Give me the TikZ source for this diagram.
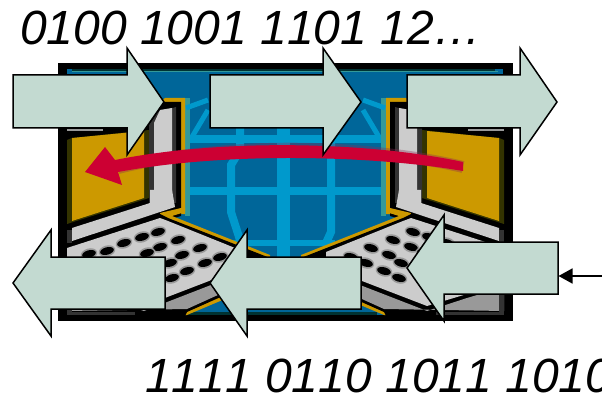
\documentclass[tikz,border=0pt]{standalone}
\usepackage{fontspec}
\setmainfont[Kerning=Off]{Liberation Sans}
\usetikzlibrary{arrows.meta}
\definecolor{blueA}{HTML}{006699}
\definecolor{blueB}{HTML}{0099CC}
\definecolor{tealA}{HTML}{339999}
\definecolor{darkT}{HTML}{003333}
\definecolor{goldA}{HTML}{CC9900}
\definecolor{oliveA}{HTML}{333300}
\definecolor{grayA}{HTML}{CCCCCC}
\definecolor{grayB}{HTML}{999999}
\definecolor{grayC}{HTML}{333333}
\definecolor{redA}{HTML}{CC0033}
\definecolor{purpA}{HTML}{8A2A55}
\definecolor{mint}{HTML}{C3DAD1}
\tikzset{
  blockarrow/.style={fill=mint,draw=black,line width=1.5pt,line join=miter},
  bits/.style={inner sep=0pt,anchor=base west,font=\fontsize{48}{48}\selectfont\itshape},
  gridline/.style={draw=blueB,line width=8pt},
  arcline/.style={draw=blueB,line width=5pt},
  feed/.style={draw=black,line width=1.5pt,-{Triangle[length=14pt,width=15pt]}}
}
\newcommand{\halfscene}{%
  % globe edge and grid arcs
  \fill[tealA] (185,98) rectangle (190,216);
  \draw[arcline] (186,108) -- (208,100);
  \draw[arcline] (192,137) -- (208,110);
  % lid
  \fill[goldA] (150,112) -- (165,98) -- (185,98) -- (185,214) -- (150,214) -- cycle;
  \fill[black] (67,128) -- (150,105) -- (163,102) -- (181,102) -- (181,216) -- (67,250) -- cycle;
  \fill[oliveA] (67,140) -- (72,138) -- (149,130) -- (149,198) -- (67,224) -- cycle;
  \fill[goldA] (72,138) -- (144,131) -- (144,198) -- (72,221) -- cycle;
  \fill[grayB] (67,129) rectangle (103,131);
  \fill[grayC] (149,125) -- (158,112) -- (176,107) -- (176,203) -- (149,203) -- cycle;
  \fill[grayA] (154,123) -- (160,110) -- (172,108) -- (172,203) -- (154,203) -- cycle;
  % lid foot band
  \fill[grayA] (72,228) -- (150,203) -- (150,190) -- (172,190) -- (175,207) -- (160,212) -- (72,241) -- cycle;
  \fill[grayC] (67,230) rectangle (72,243);
  % base
  \fill[goldA] (160,213) -- (181,208) -- (185,208) -- (185,212) -- (172,216) -- (270,255) -- (270,280) -- (187,315) -- (175,315) -- cycle;
  \fill[black] (67,246) -- (160,214) -- (168,218) -- (270,258) -- (270,275) -- (187,312) -- (185,316) -- (67,316) -- cycle;
  \fill[grayA] (67,248) -- (160,218) -- (168,221) -- (245,252) -- (245,265) -- (209,281) -- (144,306) -- (104,294) -- (67,283) -- cycle;
  \fill[grayB] (67,287) -- (104,298) -- (144,311) -- (211,285) -- (240,274) -- (240,285) -- (187,309) -- (67,311) -- cycle;
  \fill[grayC] (67,287) rectangle (72,315);
  \fill[grayC] (72,312) rectangle (135,314.5);
  % keys
  \foreach \kx/\ky in {158/232,178/240,200/248,220/257,142/237,160/247,182/255,205/263,124/243,147/253,170/263,187/271,107/251,172/278,89/254}{
    \fill[grayB,rotate around={15:(\kx,\ky)}] (\kx,\ky) ellipse [x radius=8.5,y radius=5.5];
    \fill[black,rotate around={15:(\kx,\ky)}] (\kx,\ky) ellipse [x radius=7,y radius=3.7];
  }
}
\begin{document}
\begin{tikzpicture}[x=1pt,y=-1pt]
\useasboundingbox (0,0) rectangle (602,398);
\clip (0,0) rectangle (602,398);
% framed picture
\fill[black] (58,63) rectangle (513,320.5);
\fill[blueA] (67,69) rectangle (503,315);
\fill[darkT] (72,69) rectangle (495,71.5);
\fill[tealA] (72,71.5) rectangle (498,72.5);
\fill[darkT] (187,312) rectangle (377,315);
% globe grid
\draw[gridline] (185,139) -- (390,139);
\draw[gridline] (185,191) -- (390,191);
\draw[gridline,line width=6pt] (233,243) -- (335,243);
\draw[gridline,line width=13pt] (283,128) -- (283,258);
\draw[gridline] (240,128) -- (240,150) -- (231,165) -- (231,212) -- (240,240);
\draw[gridline] (331,128) -- (331,232) -- (326,243);
\halfscene
\begin{scope}[xshift=571pt,xscale=-1]
\halfscene
\end{scope}
% red curved arrow
\draw[purpA,opacity=.35,line width=12pt] (463,167) .. controls (370,145) and (230,140) .. (118,168);
\fill[redA] (463,162) .. controls (370,142) and (225,138) .. (115,160)
  -- (105,147) -- (85,172) -- (122,185) -- (118,172)
  .. controls (225,152) and (370,155) .. (463,171) -- cycle;
% block arrows
\draw[blockarrow] (13,75) -- (127,75) -- (127,48) -- (164,102) -- (127,155) -- (127,128) -- (13,128) -- cycle;
\draw[blockarrow] (210,75) -- (323,75) -- (323,48) -- (361,102) -- (323,155) -- (323,128) -- (210,128) -- cycle;
\draw[blockarrow] (407,75) -- (520,75) -- (520,48) -- (557,102) -- (520,155) -- (520,128) -- (407,128) -- cycle;
\draw[blockarrow] (165,257) -- (51,257) -- (51,230) -- (13,283) -- (51,336) -- (51,309) -- (165,309) -- cycle;
\draw[blockarrow] (361,257) -- (247,257) -- (247,230) -- (210,283) -- (247,336) -- (247,309) -- (361,309) -- cycle;
\draw[blockarrow] (558,242) -- (444,242) -- (444,215) -- (407,268) -- (444,321) -- (444,294) -- (558,294) -- cycle;
% feed connector
\coordinate (feedstart) at (602,276);
\coordinate (feedend) at (558.5,276);
\draw[feed] (feedstart) -- (feedend);
% texts
\node[bits] (toptext) at (20,45) {0100 1001 1101 12…};
\node[bits] (bottomtext) at (145,392) {1111 0110 1011 1010};
\end{tikzpicture}
\end{document}
